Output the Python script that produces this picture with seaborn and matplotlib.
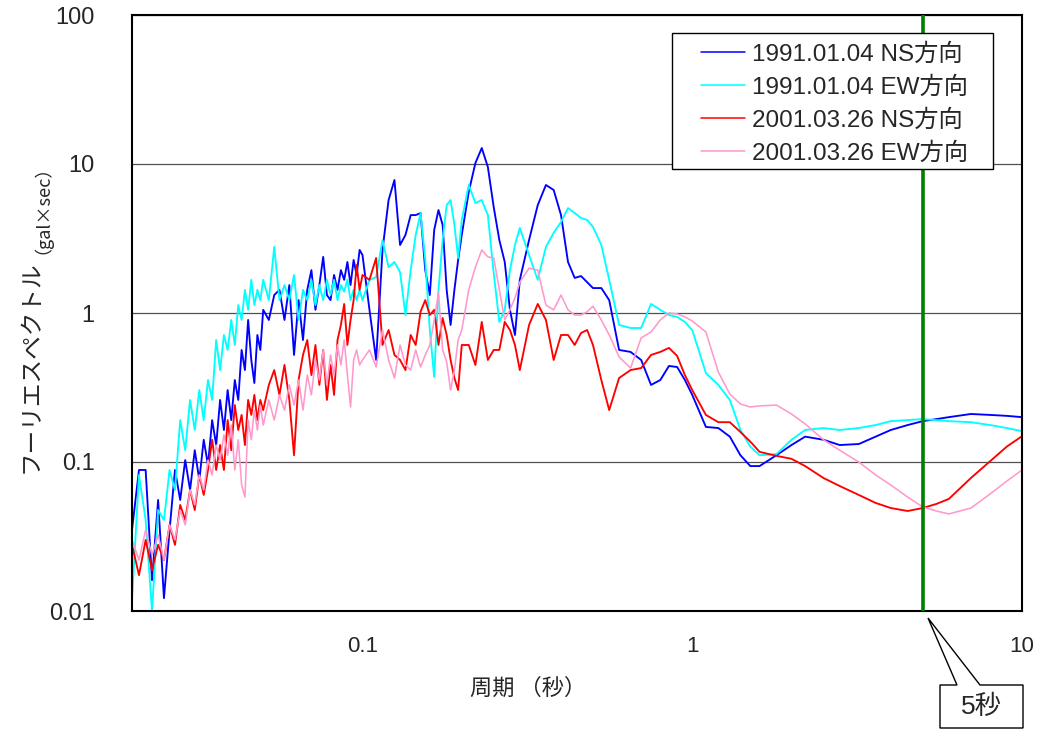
import matplotlib
matplotlib.use("Agg")
import matplotlib.pyplot as plt
import seaborn as sns
import pandas as pd
from matplotlib.lines import Line2D
from matplotlib.patches import Polygon, Rectangle
from matplotlib.ticker import FixedLocator, NullFormatter, NullLocator

sns.set_style("white")
plt.rcParams['font.family'] = ['Liberation Sans', 'Noto Sans CJK JP', 'DejaVu Sans']

# period grid (sec)
period = [0.020, 0.021, 0.022, 0.023, 0.024, 0.025, 0.026, 0.027, 0.028, 0.029,
          0.030, 0.031, 0.032, 0.033, 0.034, 0.035, 0.036, 0.037, 0.038, 0.039,
          0.040, 0.041, 0.042, 0.043, 0.044, 0.045, 0.046, 0.047, 0.048, 0.049, 0.050,
          0.052, 0.054, 0.056, 0.058, 0.060, 0.062, 0.064, 0.066, 0.068, 0.070,
          0.072, 0.074, 0.076, 0.078, 0.080, 0.082, 0.084, 0.086, 0.088, 0.090,
          0.092, 0.094, 0.096, 0.098, 0.100,
          0.105, 0.110, 0.115, 0.120, 0.125, 0.130, 0.135, 0.140, 0.145, 0.150,
          0.155, 0.160, 0.165, 0.170, 0.175, 0.180, 0.185, 0.190, 0.195, 0.200,
          0.21, 0.22, 0.23, 0.24, 0.25, 0.26, 0.27, 0.28, 0.29, 0.30,
          0.32, 0.34, 0.36, 0.38, 0.40, 0.42, 0.44, 0.46, 0.48, 0.50,
          0.53, 0.56, 0.60, 0.65, 0.70, 0.75, 0.80, 0.85, 0.90, 0.95, 1.0,
          1.1, 1.2, 1.3, 1.4, 1.5, 1.6, 1.8, 2.0, 2.2, 2.5, 2.8, 3.2, 3.6, 4.0,
          4.5, 5.0, 5.5, 6.0, 7.0, 8.0, 9.0, 10.0]

# 1991.01.04 NS
ns_1991 = [0.0350, 0.0884, 0.0884, 0.0161, 0.0556, 0.0122, 0.0350, 0.0884, 0.0556, 0.103,
           0.0649, 0.120, 0.0757, 0.141, 0.0954, 0.191, 0.130, 0.261, 0.164, 0.304,
           0.191, 0.355, 0.261, 0.565, 0.414, 0.898, 0.484, 0.339, 0.712, 0.565, 1.05,
           0.898, 1.32, 1.43, 0.898, 1.54, 0.523, 1.22, 0.659, 1.43, 1.94,
           1.05, 1.54, 2.38, 1.32, 1.22, 1.80, 1.43, 1.94, 1.67, 2.20,
           1.54, 2.27, 1.80, 2.65, 2.45,
           1.05, 0.484, 2.65, 5.73, 7.81, 2.86, 3.34, 4.54, 4.54, 4.69,
           1.94, 1.32, 3.61, 4.91, 3.90, 1.43, 0.831, 1.43, 2.27, 3.34,
           6.50, 10.15, 12.8, 9.55, 5.14, 3.09, 2.20, 1.05, 0.712, 1.67,
           3.09, 5.30, 7.23, 6.69, 4.54, 2.20, 1.72, 1.77, 1.61, 1.47,
           1.47, 1.22, 0.565, 0.548, 0.484, 0.329, 0.355, 0.441, 0.434, 0.355, 0.282,
           0.172, 0.169, 0.148, 0.111, 0.0939, 0.0939, 0.111, 0.130, 0.148, 0.141,
           0.130, 0.132, 0.148, 0.164, 0.177, 0.188, 0.194, 0.200, 0.210, 0.207, 0.204, 0.200]

# 1991.01.04 EW
ew_1991 = [0.0119, 0.0818, 0.0408, 0.0100, 0.0476, 0.0408, 0.0884, 0.0649, 0.191, 0.120,
           0.261, 0.164, 0.304, 0.191, 0.355, 0.261, 0.659, 0.414, 0.712, 0.565,
           0.898, 0.610, 1.13, 0.898, 1.43, 1.05, 1.67, 1.13, 1.43, 1.22, 1.67,
           1.22, 2.78, 1.22, 1.54, 1.22, 1.80, 0.898, 1.43, 1.22, 1.67,
           1.13, 1.54, 1.22, 1.67, 1.32, 1.67, 1.22, 1.54, 1.39, 1.67,
           1.22, 1.43, 1.22, 1.43, 1.22,
           1.67, 1.74, 3.09, 2.03, 2.20, 1.88, 0.969, 1.94, 3.34, 4.69,
           2.27, 0.769, 0.372, 1.43, 3.09, 5.30, 5.73, 3.90, 2.34, 4.21,
           7.23, 5.47, 5.73, 4.54, 1.85, 0.871, 1.05, 1.94, 2.86, 3.72,
           2.45, 1.67, 2.78, 3.45, 4.08, 5.06, 4.69, 4.34, 4.21, 3.78,
           2.86, 1.67, 0.831, 0.793, 0.793, 1.15, 1.05, 0.969, 0.941, 0.871, 0.769,
           0.395, 0.329, 0.261, 0.164, 0.127, 0.111, 0.113, 0.141, 0.164, 0.169,
           0.164, 0.169, 0.177, 0.188, 0.191, 0.194, 0.191, 0.188, 0.185, 0.177, 0.169, 0.161]

# 2001.03.26 NS
ns_2001 = [0.0278, 0.0174, 0.0300, 0.0188, 0.0278, 0.0220, 0.0378, 0.0278, 0.0515, 0.0408,
           0.0649, 0.0476, 0.0818, 0.0601, 0.0884, 0.141, 0.0884, 0.130, 0.0884, 0.191,
           0.120, 0.241, 0.164, 0.207, 0.130, 0.261, 0.207, 0.282, 0.191, 0.261, 0.223,
           0.329, 0.414, 0.282, 0.448, 0.261, 0.111, 0.355, 0.523, 0.659, 0.383,
           0.610, 0.329, 0.565, 0.261, 0.448, 0.282, 0.659, 0.831, 1.15, 0.610,
           0.898, 1.22, 2.10, 1.43, 1.80,
           1.67, 2.34, 0.610, 0.769, 0.523, 0.484, 0.414, 0.712, 0.610, 1.02,
           1.22, 0.969, 1.05, 0.610, 0.926, 0.712, 0.484, 0.366, 0.304, 0.610,
           0.610, 0.448, 0.871, 0.484, 0.565, 0.565, 0.871, 0.769, 0.610, 0.414,
           0.831, 1.15, 0.898, 0.484, 0.712, 0.712, 0.610, 0.734, 0.769, 0.610,
           0.355, 0.223, 0.366, 0.414, 0.427, 0.523, 0.548, 0.583, 0.515, 0.383, 0.304,
           0.207, 0.185, 0.185, 0.159, 0.137, 0.117, 0.110, 0.105, 0.0939, 0.0781,
           0.0690, 0.0601, 0.0531, 0.0491, 0.0469, 0.0491, 0.0523, 0.0565, 0.0781, 0.101, 0.127, 0.149]

# 2001.03.26 EW
ew_2001 = [0.0300, 0.0220, 0.0350, 0.0238, 0.0324, 0.0220, 0.0378, 0.0300, 0.0476, 0.0378,
           0.0649, 0.0515, 0.0818, 0.0649, 0.103, 0.0818, 0.130, 0.103, 0.152, 0.111,
           0.177, 0.0884, 0.141, 0.0701, 0.0582, 0.191, 0.141, 0.223, 0.164, 0.241, 0.177,
           0.261, 0.191, 0.282, 0.223, 0.329, 0.241, 0.355, 0.223, 0.383, 0.282,
           0.484, 0.355, 0.565, 0.329, 0.523, 0.383, 0.610, 0.448, 0.659, 0.383,
           0.234, 0.484, 0.565, 0.448, 0.484,
           0.565, 0.434, 0.769, 0.484, 0.366, 0.610, 0.448, 0.414, 0.565, 0.434,
           0.523, 0.610, 0.898, 1.37, 0.565, 0.469, 0.304, 0.414, 0.659, 0.769,
           1.43, 2.03, 2.65, 2.38, 2.34, 1.43, 0.898, 1.05, 1.26, 1.61,
           2.00, 1.94, 1.13, 1.05, 1.32, 1.05, 0.969, 0.969, 1.02, 1.11,
           0.898, 0.712, 0.507, 0.427, 0.680, 0.746, 0.898, 1.0, 0.985, 0.941, 0.884,
           0.746, 0.401, 0.286, 0.245, 0.234, 0.238, 0.241, 0.210, 0.180, 0.141,
           0.120, 0.0999, 0.0818, 0.0701, 0.0582, 0.0499, 0.0469, 0.0448, 0.0491, 0.0610, 0.0745, 0.0884]

labels = ["1991.01.04 NS方向", "1991.01.04 EW方向", "2001.03.26 NS方向", "2001.03.26 EW方向"]
colors = ["#0000ff", "#00ffff", "#ff0000", "#ff99cc"]
widths = [1.35, 1.35, 1.35, 1.15]
series = [ns_1991, ew_1991, ns_2001, ew_2001]

for s in series:
    if len(s) != len(period):
        raise ValueError(f"length mismatch {len(s)} vs {len(period)}")

W, H = 1043, 731
def fx(x):
    return x / W
def fy(y):
    return 1 - y / H

fig = plt.figure(figsize=(W / 100, H / 100), dpi=100)
ax = fig.add_axes([fx(132), fy(611), fx(1022) - fx(132), fy(15) - fy(611)])

for lab, vals, c, lw in zip(labels, series, colors, widths):
    df = pd.DataFrame({"period": period, "amp": vals})
    sns.lineplot(data=df, x="period", y="amp", ax=ax, color=c, lw=lw,
                 estimator=None, sort=False, zorder=2)

ax.set_xscale("log")
ax.set_yscale("log")
ax.set_xlim(0.02, 10)
ax.set_ylim(0.01, 100)
ax.set_xlabel("")
ax.set_ylabel("")

ax.set_xticks([0.1, 1, 10])
ax.set_xticklabels(["0.1", "1", "10"])
minor = [0.03, 0.04, 0.05, 0.06, 0.07, 0.08, 0.09,
         0.2, 0.3, 0.4, 0.5, 0.6, 0.7, 0.8, 0.9,
         2, 3, 4, 5, 6, 7, 8, 9]
ax.xaxis.set_minor_locator(FixedLocator(minor))
ax.xaxis.set_minor_formatter(NullFormatter())
ax.set_yticks([0.01, 0.1, 1, 10, 100])
ax.set_yticklabels(["0.01", "0.1", "1", "10", "100"])
ax.yaxis.set_minor_locator(NullLocator())

ax.tick_params(axis="x", which="major", direction="in", length=8, width=1,
               color="black", labelsize=16, pad=18)
ax.tick_params(axis="x", which="minor", direction="in", length=5, width=0.8,
               color="black")
ax.tick_params(axis="y", which="major", direction="in", length=0,
               labelsize=17, pad=27)

ax.grid(False)
ax.yaxis.grid(True, which="major", color="#505050", lw=0.9)
ax.set_axisbelow(True)
for sp in ax.spines.values():
    sp.set_color("black")
    sp.set_linewidth(1.5)
    sp.set_visible(True)

# 5 sec marker
ax.axvline(5, color="#008000", lw=2.6, zorder=3)

# legend with square frame
frame = Rectangle((fx(672), fy(169)), fx(993) - fx(672), fy(33) - fy(169),
                  transform=fig.transFigure, facecolor="white", edgecolor="black",
                  lw=1.0, zorder=4.5, clip_on=False)
ax.add_patch(frame)
handles = [Line2D([], [], color=c, lw=1.1) for c in colors]
ax.legend(handles, labels, loc="upper left", bbox_to_anchor=(fx(701), fy(43)),
          bbox_transform=fig.transFigure, frameon=False, fontsize=17.5,
          handlelength=1.8, handletextpad=0.3, labelspacing=0.44,
          borderpad=0, borderaxespad=0)

# axis titles
fig.text(fx(528), fy(688), "周期 （秒）", ha="center", va="center",
         fontsize=16, family=["Noto Sans CJK JP"])
fig.text(fx(31), fy(367), "フーリエスペクトル", ha="center", va="center",
         rotation=90, fontsize=17, family=["Noto Sans CJK JP"])
fig.text(fx(33), fy(200), "（gal×sec）", ha="center", va="center",
         rotation=90, fontsize=13, family=["Noto Sans CJK JP"])

# callout "5秒"
pts = [(940, 685), (957, 685), (928, 618), (980, 685), (1023, 685),
       (1023, 728), (940, 728)]
call = Polygon([(fx(x), fy(y)) for x, y in pts], closed=True,
               transform=fig.transFigure, facecolor="white", edgecolor="black", lw=1.0)
fig.patches.append(call)
fig.text(fx(981), fy(707), "5秒", ha="center", va="center", fontsize=19)

fig.savefig("out.png", dpi=100, facecolor="white")
